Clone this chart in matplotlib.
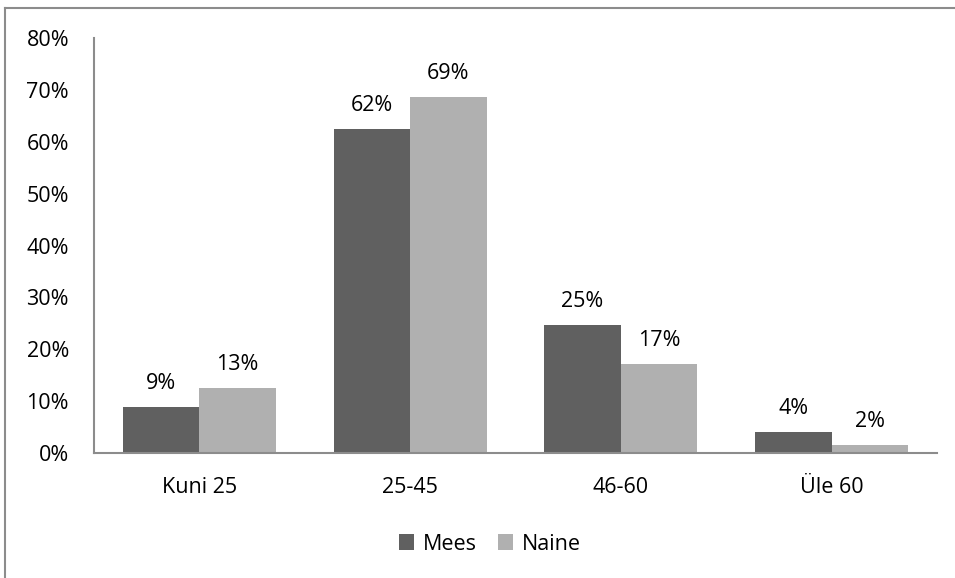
import matplotlib
matplotlib.use("Agg")
import matplotlib.pyplot as plt
from matplotlib.lines import Line2D
import numpy as np

categories = ["Kuni 25", "25-45", "46-60", "Üle 60"]
mees = [8.9, 62.4, 24.7, 4.0]
naine = [12.6, 68.7, 17.1, 1.5]
yticks = [0, 10, 20, 30, 40, 50, 60, 70, 80]

plt.rcParams['font.family'] = ['Open Sans', 'DejaVu Sans']
FS = 15.5

fig = plt.figure(figsize=(9.55, 5.78), dpi=100)
ax = fig.add_axes([94/955, 1-453/578, (937-94)/955, (453-38)/578])

x = np.arange(len(categories))
w = 0.363
c_m = "#606060"
c_n = "#b0b0b0"
b1 = ax.bar(x - w/2, mees, w, color=c_m, label="Mees")
b2 = ax.bar(x + w/2, naine, w, color=c_n, label="Naine")

for bars, vals in ((b1, mees), (b2, naine)):
    for r, v in zip(bars, vals):
        ax.annotate(f"{int(v + 0.5)}%", (r.get_x() + r.get_width()/2, v),
                    xytext=(0, 13), textcoords="offset points",
                    ha="center", va="baseline", fontsize=FS, color="black")

ax.set_xlim(-0.5, 3.5)
ax.set_ylim(0, 80)
ax.set_yticks(yticks)
ax.set_yticklabels([f"{t}%" for t in yticks], fontsize=FS)
ax.set_xticks(x)
ax.set_xticklabels(categories, fontsize=FS)
ax.tick_params(axis='y', length=0, pad=18)
ax.tick_params(axis='x', length=0, pad=17)
for s in ("top", "right"):
    ax.spines[s].set_visible(False)
for s in ("left", "bottom"):
    ax.spines[s].set_color("#8c8c8c")
    ax.spines[s].set_linewidth(1.5)

fig.legend(handles=[b1, b2], labels=["Mees", "Naine"], loc="center",
           bbox_to_anchor=(490/955, 1-544/578), ncol=2, frameon=False,
           fontsize=FS, handlelength=0.7, handleheight=0.7,
           handletextpad=0.4, columnspacing=1.0)

# outer chart border (left and top visible)
fig.add_artist(Line2D([5/955, 5/955], [0, 1-8/578], transform=fig.transFigure,
                      color="#8c8c8c", lw=1.5))
fig.add_artist(Line2D([5/955, 1], [1-8/578, 1-8/578], transform=fig.transFigure,
                      color="#8c8c8c", lw=1.5))

fig.savefig("out.png", dpi=100)
